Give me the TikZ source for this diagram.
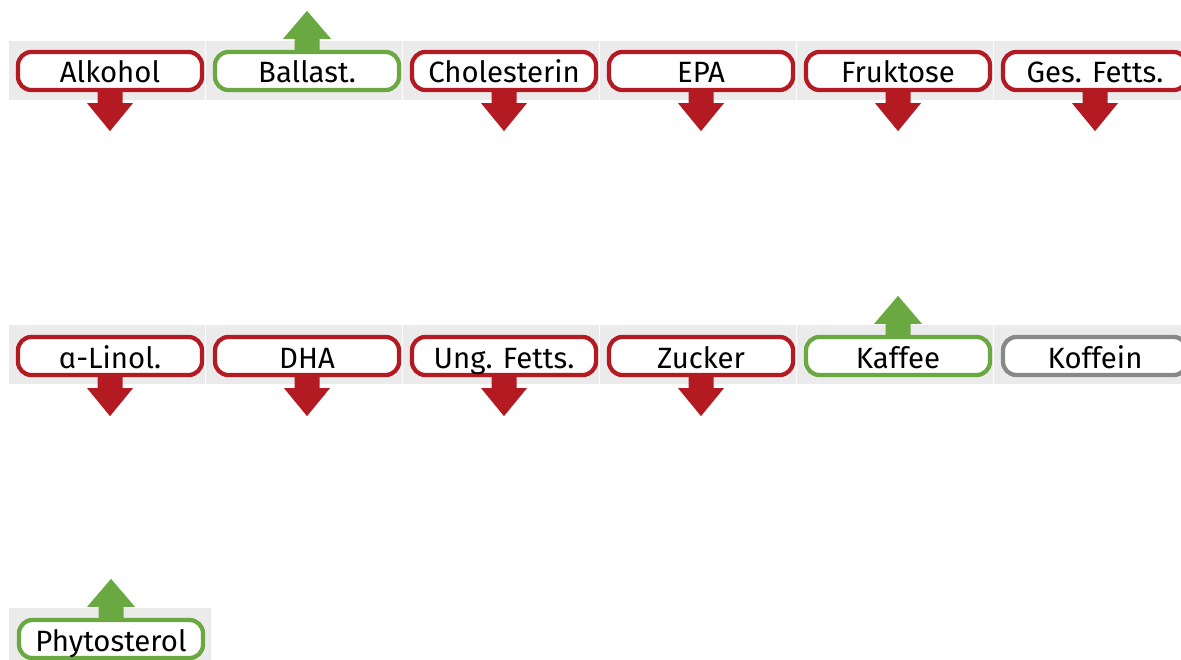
\documentclass[tikz,border=0pt]{standalone}
\usepackage{fontspec}
\setmainfont{Fira Sans}
\usepackage{tikz}

\definecolor{redc}{RGB}{180,26,34}
\definecolor{greenc}{RGB}{106,168,66}
\definecolor{greyc}{RGB}{136,136,136}
\definecolor{stripc}{RGB}{235,235,235}

\tikzset{
	tag/.style={draw=#1, fill=white, line width=3.2pt, rounded corners=10pt,
		minimum width=138pt, minimum height=28.5pt, inner sep=0pt,
		text height=20pt, text depth=2pt,
		font=\fontsize{22}{24}\selectfont},
	cell/.style={fill=stripc}
}

% block arrows below / above a tag
\newcommand{\arrdn}[2]{\fill[#2] (#1.south) ++(-12.5,-2) -- ++(0,13) -- ++(-10.5,0) -- ++(23,28) -- ++(23,-28) -- ++(-10.5,0) -- ++(0,-13) -- cycle;}
\newcommand{\arrup}[2]{\fill[#2] (#1.north) ++(-12.5,2) -- ++(0,-13) -- ++(-11.5,0) -- ++(24,-28) -- ++(24,28) -- ++(-11.5,0) -- ++(0,13) -- cycle;}

\begin{document}
\begin{tikzpicture}[x=0.75pt,y=-0.75pt]
	\useasboundingbox (0,0) rectangle (1181,660);
	\clip (0,0) rectangle (1181,660);
	
	%STRIPS
	\foreach \x in {0,...,5}
	\fill[cell] (9+\x*197,41) rectangle (205+\x*197,100);
	\foreach \x in {0,...,5}
	\fill[cell] (9+\x*197,325) rectangle (205+\x*197,384);
	\fill[cell] (9,608) rectangle (211,660);
	
	%ROW ONE
	\foreach \x/\lab/\col in {0/Alkohol/redc,1/Ballast./greenc,2/Cholesterin/redc,3/EPA/redc,4/Fruktose/redc,5/Ges. Fetts./redc}
	\node[tag=\col] (a\x) at (110+\x*197,71) {\lab};
	
	%ROW TWO
	\foreach \x/\lab/\col in {0/ɑ-Linol./redc,1/DHA/redc,2/Ung. Fetts./redc,3/Zucker/redc,4/Kaffee/greenc,5/Koffein/greyc}
	\node[tag=\col] (b\x) at (110+\x*197,356) {\lab};
	
	%ROW THREE
	\node[tag=greenc] (c0) at (111,639) {Phytosterol};
	
	%ARROWS
	\foreach \n in {a0,a2,a3,a4,a5,b0,b1,b2,b3}
	{\arrdn{\n}{redc}}
	\foreach \n in {a1,b4,c0}
	{\arrup{\n}{greenc}}
	
\end{tikzpicture}
\end{document}
